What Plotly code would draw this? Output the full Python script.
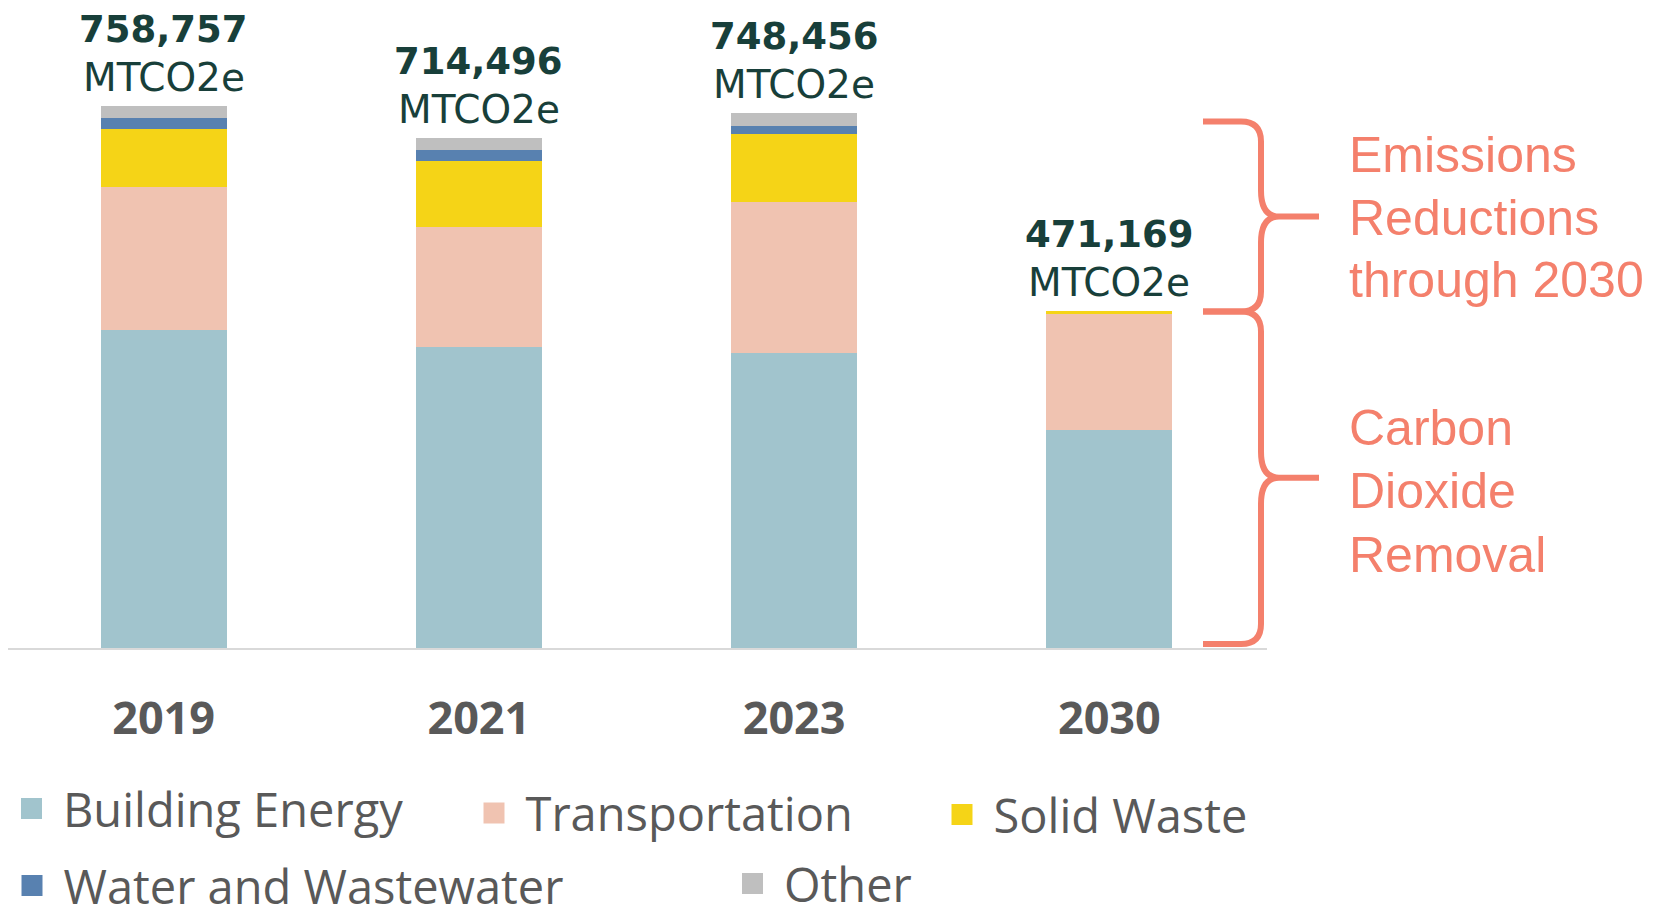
import plotly.graph_objects as go

# ---------------- data ----------------
years = ["2019", "2021", "2023", "2030"]
building_energy = [444600, 421000, 413300, 305700]
transportation = [201200, 168500, 210900, 162269]
solid_waste = [80700, 92400, 95200, 3200]
water_wastewater = [15000, 14800, 11300, 0]
other = [17257, 17796, 17756, 0]

series_names = ["Building Energy", "Transportation", "Solid Waste",
                "Water and Wastewater", "Other"]
series_values = [building_energy, transportation, solid_waste,
                 water_wastewater, other]
series_colors = ["#a1c4cd", "#f0c3b1", "#f5d417", "#5881b0", "#bfbfbf"]

unit_label = "MTCO2e"
upper_brace_labels = ["Emissions", "Reductions", "through 2030"]
lower_brace_labels = ["Carbon", "Dioxide", "Removal"]

totals = [sum(s[i] for s in series_values) for i in range(len(years))]

# ---------------- layout constants ----------------
# the page body has an 8px margin, so the figure starts at (8, 8)
OX, OY = 8, 8
W, H = 1646, 911
ML, MR, MT, MB = 0, 387, 0, 271
PW, PH = W - ML - MR, H - MT - MB          # 1259 x 640
UNITS_PER_PX = 1400
YMAX = PH * UNITS_PER_PX
CAT_STEP_PX = 315.25
FIRST_CAT_PX = 163.6                        # page x of first category centre
X0 = -(FIRST_CAT_PX - OX - ML) / CAT_STEP_PX
X1 = X0 + PW / CAT_STEP_PX
BASE_PY = OY + MT + PH                      # page y of the baseline


def paper_x(px):
    return (px - OX - ML) / PW


def paper_y(py):
    return (BASE_PY - py) / PH


fig = go.Figure()

# stacked bars
for name, vals, col in zip(series_names, series_values, series_colors):
    fig.add_trace(go.Bar(x=years, y=vals, name=name, marker_color=col,
                         marker_line_width=0, showlegend=False,
                         legendgroup=name, hoverinfo="x+y+name"))

# legend entries (one legend box per entry to reproduce the free layout)
legend_pos = [  # (legend-left page px, row-centre page px)
    (0, 809), (462.5, 813.5), (930.5, 815), (0.5, 886), (721, 884)
]
legend_keys = ["legend", "legend2", "legend3", "legend4", "legend5"]
for name, col, key in zip(series_names, series_colors, legend_keys):
    fig.add_trace(go.Scatter(x=[None], y=[None], mode="markers", name=name,
                             legendgroup=name, legend=key,
                             marker=dict(symbol="square", size=16, color=col,
                                         line=dict(width=5, color=col))))

legend_layouts = {}
for key, (lx, ly) in zip(legend_keys, legend_pos):
    legend_layouts[key] = dict(
        x=paper_x(lx), y=paper_y(ly), xanchor="left", yanchor="middle",
        font=dict(family="Open Sans", size=47, color="#595959"),
        itemwidth=53, itemsizing="trace", bgcolor="rgba(0,0,0,0)",
        borderwidth=0)

annotations = []
# totals above the bars
for i, tot in enumerate(totals):
    annotations.append(dict(
        x=i, y=tot, xref="x", yref="y", text=f"{tot:,}", showarrow=False,
        yanchor="bottom", yshift=53,
        font=dict(family="DejaVu Sans", size=37, color="#183f3a",
                  weight="bold")))
    annotations.append(dict(
        x=i, y=tot, xref="x", yref="y", text=unit_label, showarrow=False,
        yanchor="bottom", yshift=4,
        font=dict(family="DejaVu Sans", size=39, color="#183f3a")))

# right-side brace labels
CORAL = "#f4806c"
label_baselines_upper = [173, 236, 298]
label_baselines_lower = [446, 509, 573]
for txt, bl in zip(upper_brace_labels + lower_brace_labels,
                   label_baselines_upper + label_baselines_lower):
    annotations.append(dict(
        x=paper_x(1347), y=paper_y(bl + 12), xref="paper", yref="paper",
        text=txt, showarrow=False, xanchor="left", yanchor="bottom",
        font=dict(family="Liberation Sans", size=50, color=CORAL)))

# braces
BRACE_TOP = 737000
BRACE_BOTTOM = 5600
BRACE_JOIN = totals[-1]


def brace_path(y_top, y_bot):
    y_mid = (y_top + y_bot) / 2
    xt, xs, xtip = paper_x(1203), paper_x(1261), paper_x(1319)
    rc_x, rc_y = 20 / PW, 20 * UNITS_PER_PX
    rt_x, rt_y = 18 / PW, 26 * UNITS_PER_PX
    return (f"M{xt},{y_top} L{xs - rc_x},{y_top} Q{xs},{y_top} {xs},{y_top - rc_y} "
            f"L{xs},{y_mid + rt_y} Q{xs},{y_mid} {xs + rt_x},{y_mid} L{xtip},{y_mid} "
            f"M{xs + rt_x},{y_mid} Q{xs},{y_mid} {xs},{y_mid - rt_y} "
            f"L{xs},{y_bot + rc_y} Q{xs},{y_bot} {xs - rc_x},{y_bot} L{xt},{y_bot}")


shapes = [
    dict(type="path", xref="paper", yref="y", path=brace_path(BRACE_TOP, BRACE_JOIN),
         line=dict(color=CORAL, width=6)),
    dict(type="path", xref="paper", yref="y", path=brace_path(BRACE_JOIN, BRACE_BOTTOM),
         line=dict(color=CORAL, width=6)),
]

fig.update_layout(
    width=W, height=H, autosize=False,
    margin=dict(l=ML, r=MR, t=MT, b=MB, pad=0, autoexpand=False),
    paper_bgcolor="white", plot_bgcolor="white",
    barmode="stack", bargap=0.6,
    xaxis=dict(type="category", range=[X0, X1],
               showgrid=False, zeroline=False, showline=True,
               linecolor="#d9d9d9", linewidth=2, ticks="",
               ticklabelstandoff=30, automargin=False,
               tickfont=dict(family="Open Sans", size=45, color="#595959",
                             weight="bold"),
               fixedrange=True),
    yaxis=dict(range=[0, YMAX], visible=False, showgrid=False,
               zeroline=False, fixedrange=True, automargin=False),
    annotations=annotations,
    shapes=shapes,
    showlegend=True,
    **legend_layouts,
)

fig.write_html("out.html")
